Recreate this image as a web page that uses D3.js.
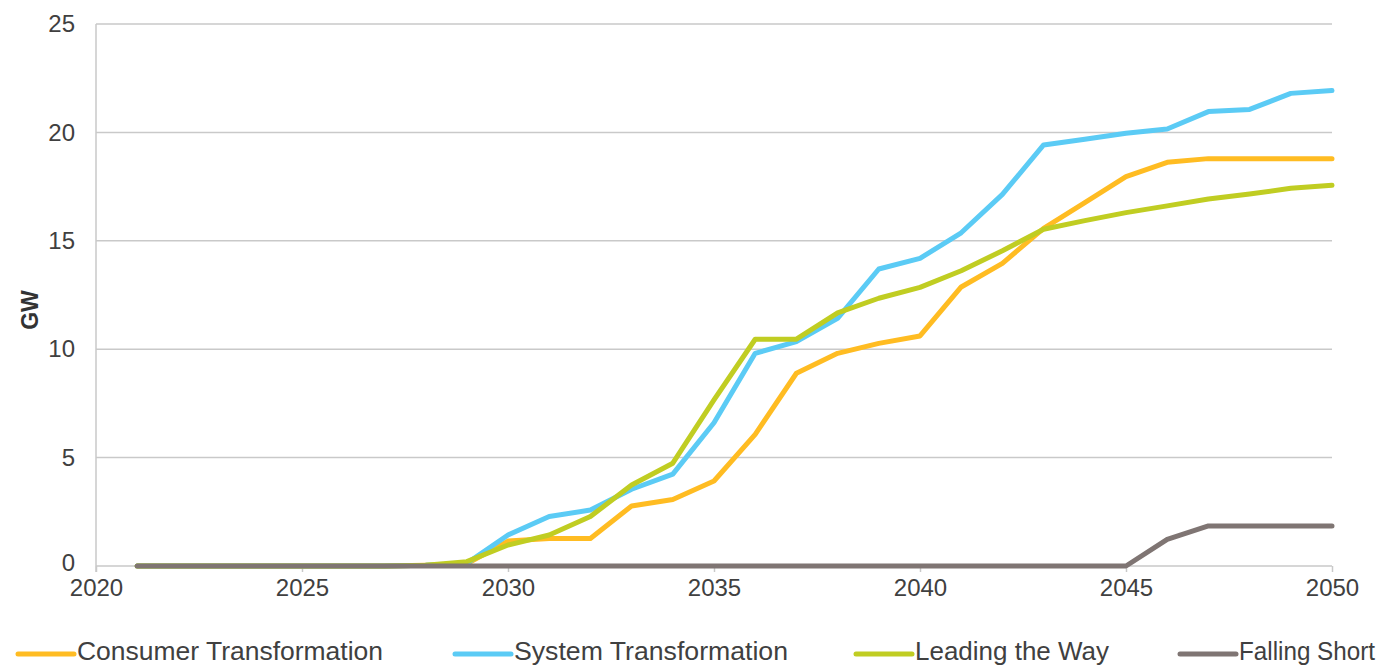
<!DOCTYPE html>
<html><head><meta charset="utf-8">
<script src="https://cdn.jsdelivr.net/npm/d3@7"></script>
<style>body{margin:0;background:#fff}svg{display:block}</style>
</head><body>
<svg id="c" width="1386" height="668"></svg>
<script>
const years = d3.range(2021, 2051);
const consumerTransformation = [0,0,0,0,0,0,0,0.03,0.1,1.15,1.27,1.27,2.77,3.07,3.92,6.07,8.89,9.81,10.27,10.61,12.87,13.96,15.57,16.76,17.96,18.62,18.79,18.79,18.79,18.79];
const systemTransformation = [0,0,0,0,0,0,0,0.03,0.12,1.43,2.28,2.58,3.54,4.24,6.61,9.81,10.35,11.42,13.7,14.19,15.37,17.14,19.42,19.68,19.96,20.16,20.96,21.06,21.8,21.93];
const leadingTheWay = [0,0,0,0,0,0,0,0.03,0.2,0.97,1.43,2.28,3.74,4.74,7.66,10.46,10.46,11.68,12.35,12.85,13.62,14.54,15.53,15.93,16.3,16.61,16.93,17.16,17.42,17.56];
const fallingShort = [0,0,0,0,0,0,0,0,0,0,0,0,0,0,0,0,0,0,0,0,0,0,0,0,0,1.23,1.85,1.85,1.85,1.85];
const seriesNames = ["Consumer Transformation","System Transformation","Leading the Way","Falling Short"];
const seriesColors = ["#FFBC22","#5BCBF5","#C0CD22","#7F7573"];
const yTicks = [0,5,10,15,20,25];
const xTicks = [2020,2025,2030,2035,2040,2045,2050];

const svg = d3.select("#c");
const x = d3.scaleLinear().domain([2020,2050]).range([96,1332]);
const y = d3.scaleLinear().domain([0,25]).range([566,24]);
const font = "'Liberation Sans', Arial, sans-serif";

// gridlines
svg.append("g").selectAll("line").data(yTicks).join("line")
  .attr("x1",96).attr("x2",1332).attr("y1",d=>y(d)).attr("y2",d=>y(d))
  .attr("stroke","#c9c9c9").attr("stroke-width",1.5);
// left axis line
svg.append("line").attr("x1",96).attr("x2",96).attr("y1",y(25)).attr("y2",y(0)+6)
  .attr("stroke","#c9c9c9").attr("stroke-width",1.5);

// y axis labels
const yAxis = d3.axisLeft(y).tickValues(yTicks).tickSize(0).tickPadding(21).tickFormat(d3.format("d"));
const yg = svg.append("g").attr("transform","translate(96,0)").call(yAxis);
yg.select(".domain").remove();
yg.selectAll("text").attr("font-family",font).attr("font-size",24).attr("fill","#404040");
yg.selectAll("text").filter(d=>d===0).attr("dy","0.2em");

// x axis
const xAxis = d3.axisBottom(x).tickValues(xTicks).tickSize(6).tickPadding(7).tickFormat(d3.format("d"));
const xg = svg.append("g").attr("transform",`translate(0,${y(0)})`).call(xAxis);
xg.select(".domain").remove();
xg.selectAll("line").attr("stroke","#c9c9c9").attr("stroke-width",1.5);
xg.selectAll("text").attr("font-family",font).attr("font-size",24).attr("fill","#404040");

// GW label
svg.append("text").attr("transform","translate(38,310) rotate(-90)")
  .attr("text-anchor","middle").attr("font-family",font).attr("font-size",23)
  .attr("font-weight","bold").attr("fill","#333").text("GW");

const data = [consumerTransformation, systemTransformation, leadingTheWay, fallingShort];
const line = d3.line().x((d,i)=>x(years[i])).y(d=>y(d));
data.forEach((s,k)=>{
  svg.append("path").datum(s).attr("d",line).attr("fill","none")
    .attr("stroke",seriesColors[k]).attr("stroke-width",5)
    .attr("stroke-linejoin","round").attr("stroke-linecap","round");
});

// legend
const legX = [18,455,856,1180];
const legW = [306,274,194,136];
const lg = svg.append("g");
seriesNames.forEach((n,k)=>{
  lg.append("line").attr("x1",legX[k]).attr("x2",legX[k]+56).attr("y1",654).attr("y2",654)
    .attr("stroke",seriesColors[k]).attr("stroke-width",5).attr("stroke-linecap","round");
  lg.append("text").attr("x",legX[k]+59).attr("y",660).attr("font-family",font)
    .attr("font-size",26).attr("fill","#404040")
    .attr("textLength",legW[k]).attr("lengthAdjust","spacingAndGlyphs").text(n);
});
</script>
</body></html>
